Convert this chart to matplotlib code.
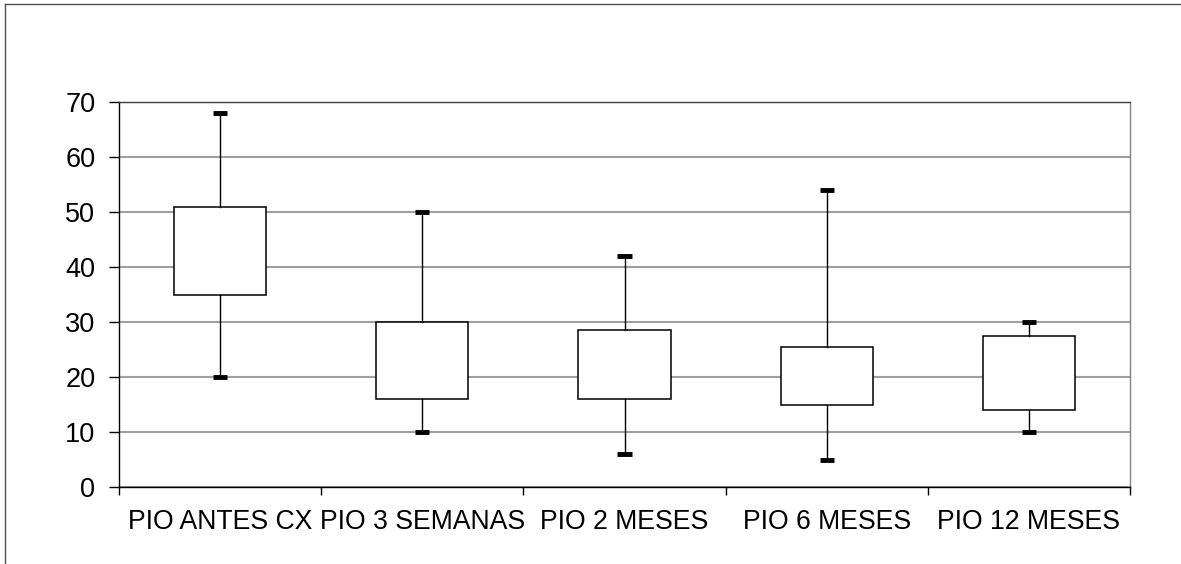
import matplotlib
matplotlib.use("Agg")
import matplotlib.pyplot as plt
from matplotlib.lines import Line2D

categories = ["PIO ANTES CX", "PIO 3 SEMANAS", "PIO 2 MESES", "PIO 6 MESES", "PIO 12 MESES"]
whisker_low = [20, 10, 6, 5, 10]
q1 = [35, 16, 16, 15, 14]
q3 = [51, 30, 28.5, 25.5, 27.5]
whisker_high = [68, 50, 42, 54, 30]
yticks = [0, 10, 20, 30, 40, 50, 60, 70]

plt.rcParams['font.family'] = ['Liberation Sans', 'DejaVu Sans']

fig = plt.figure(figsize=(11.81, 5.64), dpi=100)
ax = fig.add_axes([119/1181, 77/564, (1130-119)/1181, (487-102)/564])

stats = []
for i, c in enumerate(categories):
    med = (q1[i] + q3[i]) / 2
    stats.append(dict(label=c, whislo=whisker_low[i], q1=q1[i], med=med,
                      q3=q3[i], whishi=whisker_high[i], fliers=[]))

positions = list(range(len(categories)))
ax.bxp(stats, positions=positions, widths=0.455, capwidths=0.07,
       patch_artist=True, showfliers=False,
       boxprops=dict(facecolor='white', edgecolor='black', linewidth=1.1),
       whiskerprops=dict(color='black', linewidth=1.0),
       capprops=dict(color='black', linewidth=3.5, solid_capstyle='butt'),
       medianprops=dict(visible=False), zorder=3)

ax.set_xlim(-0.5, len(categories) - 0.5)
ax.set_ylim(0, 70)
ax.set_yticks(yticks)
ax.set_yticklabels([str(v) for v in yticks])
ax.yaxis.grid(True, color='#a0a0a0', linewidth=1.5, zorder=0)
ax.set_axisbelow(True)

ax.set_xticks(positions)
ax.set_xticklabels(categories)
ax.set_xticks([p - 0.5 for p in positions] + [len(categories) - 0.5], minor=True)
ax.tick_params(axis='x', which='major', length=0, pad=16, labelsize=19.2)
ax.tick_params(axis='x', which='minor', length=6, width=1, color='black', direction='out')
ax.tick_params(axis='y', which='major', length=7, width=1, color='black', direction='out',
               pad=10, labelsize=19.5)

ax.spines['left'].set_color('black')
ax.spines['bottom'].set_color('black')
ax.spines['top'].set_color('#404040')
ax.spines['right'].set_color('#808080')
for s in ax.spines.values():
    s.set_linewidth(1.0)

# outer chart frame (only top and left edges visible in the reference)
fig.add_artist(Line2D([5/1181, 5/1181], [0, 1 - 4/564], transform=fig.transFigure,
                      color='#505050', linewidth=1.0))
fig.add_artist(Line2D([5/1181, 1], [1 - 4/564, 1 - 4/564], transform=fig.transFigure,
                      color='#505050', linewidth=1.0))

fig.savefig("out.png", dpi=100, facecolor='white')
